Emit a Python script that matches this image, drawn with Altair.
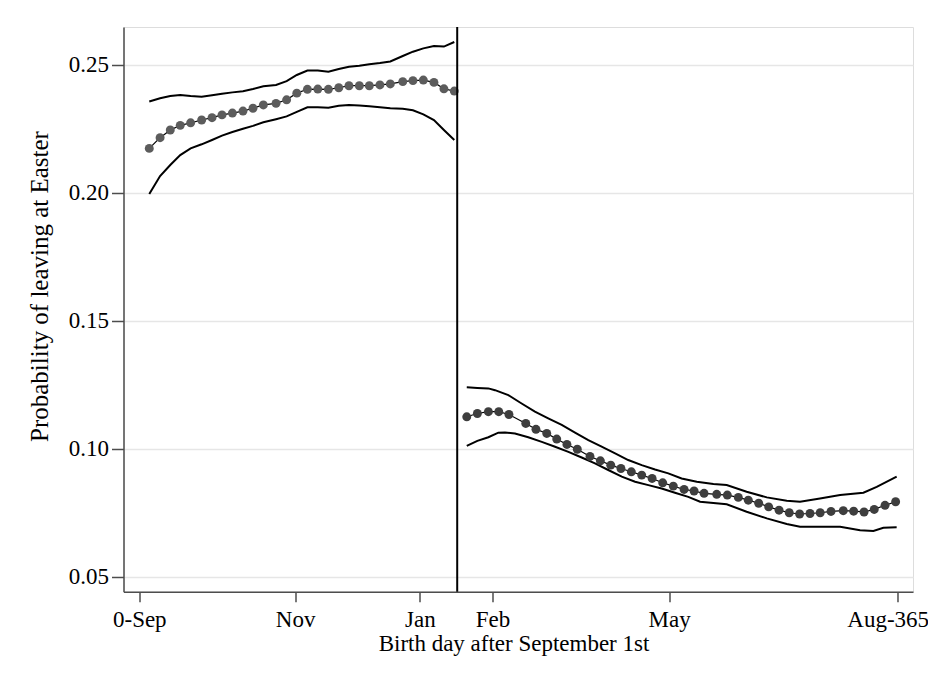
import altair as alt
import pandas as pd

# ---- data ----
left_day = [4.8, 10.0, 14.9, 19.7, 24.7, 30.0, 35.0, 39.8, 44.8, 49.9, 54.7, 59.7, 65.8, 70.9, 75.8,
            80.9, 85.9, 91.0, 96.0, 100.9, 105.9, 110.7, 115.8, 120.8, 126.8, 131.7, 136.7, 141.8, 146.6, 151.6]
left_est = [0.2174, 0.2216, 0.2246, 0.2264, 0.2274, 0.2285, 0.2294, 0.2305, 0.2312, 0.2320, 0.2331, 0.2344,
            0.2350, 0.2364, 0.2390, 0.2405, 0.2406, 0.2405, 0.2411, 0.2419, 0.2419, 0.2419, 0.2422, 0.2426,
            0.2435, 0.2439, 0.2441, 0.2432, 0.2407, 0.2398]
left_upper = [0.2357, 0.2370, 0.2379, 0.2383, 0.2379, 0.2376, 0.2382, 0.2388, 0.2393, 0.2397, 0.2406, 0.2417,
              0.2422, 0.2437, 0.2461, 0.2478, 0.2478, 0.2474, 0.2484, 0.2493, 0.2497, 0.2503, 0.2508, 0.2514,
              0.2535, 0.2552, 0.2565, 0.2574, 0.2572, 0.2590]
left_lower = [0.1996, 0.2066, 0.2109, 0.2148, 0.2174, 0.2190, 0.2207, 0.2224, 0.2238, 0.2251, 0.2262, 0.2276,
              0.2288, 0.2299, 0.2317, 0.2335, 0.2335, 0.2333, 0.2341, 0.2344, 0.2342, 0.2339, 0.2335, 0.2331,
              0.2329, 0.2323, 0.2307, 0.2285, 0.2246, 0.2207]

right_day = [157.6, 162.7, 168.0, 173.0, 177.9, 186.0, 190.9, 196.1, 200.9, 205.8, 210.8, 216.9, 221.9, 226.9,
             231.8, 236.8, 241.8, 246.8, 251.9, 257.0, 262.2, 267.0, 271.8, 277.9, 283.0, 288.3, 293.1, 298.1,
             302.9, 307.9, 312.8, 317.8, 322.8, 327.7, 332.9, 338.8, 343.8, 348.8, 353.7, 358.9, 364.0]
right_est = [0.1125, 0.1138, 0.1145, 0.1145, 0.1134, 0.1099, 0.1076, 0.1060, 0.1038, 0.1017, 0.0998, 0.0970,
             0.0953, 0.0936, 0.0923, 0.0910, 0.0897, 0.0884, 0.0867, 0.0854, 0.0841, 0.0835, 0.0826, 0.0822,
             0.0819, 0.0810, 0.0799, 0.0787, 0.0773, 0.0760, 0.0750, 0.0745, 0.0747, 0.0750, 0.0755, 0.0758,
             0.0756, 0.0753, 0.0763, 0.0779, 0.0793]

right_upper_day = [157.6, 162.7, 168.0, 171.2, 177.6, 184.0, 190.4, 196.8, 203.3, 209.7, 216.1, 222.5, 229.0,
                   235.3, 241.8, 248.2, 254.6, 261.0, 268.3, 276.3, 282.7, 292.3, 302.0, 311.6, 318.0, 327.6,
                   337.3, 348.5, 354.9, 364.5]
right_upper = [0.1240, 0.1238, 0.1236, 0.1229, 0.1210, 0.1177, 0.1145, 0.1119, 0.1093, 0.1063, 0.1034, 0.1008,
               0.0982, 0.0956, 0.0936, 0.0919, 0.0904, 0.0884, 0.0871, 0.0862, 0.0858, 0.0832, 0.0810, 0.0797,
               0.0793, 0.0806, 0.0819, 0.0828, 0.0851, 0.0891]
right_lower_day = [157.6, 162.7, 168.0, 172.8, 176.0, 180.8, 187.2, 193.7, 200.1, 206.5, 212.9, 219.3, 225.7,
                   232.2, 238.6, 245.0, 251.4, 257.8, 264.2, 269.9, 282.7, 292.3, 302.0, 311.6, 318.0, 327.6,
                   337.3, 346.9, 353.3, 358.1, 364.5]
right_lower = [0.1011, 0.1031, 0.1045, 0.1063, 0.1064, 0.1060, 0.1045, 0.1027, 0.1008, 0.0988, 0.0966, 0.0943,
               0.0917, 0.0891, 0.0871, 0.0858, 0.0845, 0.0828, 0.0812, 0.0793, 0.0783, 0.0754, 0.0728, 0.0706,
               0.0695, 0.0695, 0.0695, 0.0682, 0.0679, 0.0691, 0.0693]

cutoff_day = [153]
x_ticks = [0, 75, 135, 170, 255, 365]
x_tick_labels = ["0-Sep", "Nov", "Jan", "Feb", "May", "Aug-365"]
y_ticks = [0.05, 0.10, 0.15, 0.20, 0.25]

# ---- tables ----
ci = pd.concat([
    pd.DataFrame({"day": left_day, "val": left_upper, "grp": "lu"}),
    pd.DataFrame({"day": left_day, "val": left_lower, "grp": "ll"}),
    pd.DataFrame({"day": right_upper_day, "val": right_upper, "grp": "ru"}),
    pd.DataFrame({"day": right_lower_day, "val": right_lower, "grp": "rl"}),
], ignore_index=True)
est = pd.concat([
    pd.DataFrame({"day": left_day, "val": left_est, "seg": "left"}),
    pd.DataFrame({"day": right_day, "val": right_est, "seg": "right"}),
], ignore_index=True)
cut = pd.DataFrame({"day": cutoff_day})

FONT = "Liberation Serif"
label_map = "{" + ",".join(f"'{v}':'{l}'" for v, l in zip(x_ticks, x_tick_labels)) + "}"

x_scale = alt.Scale(domain=[-7.604, 372.36], nice=False, zero=False)
y_scale = alt.Scale(domain=[0.04414, 0.26485], nice=False, zero=False)

x_enc = alt.X("day:Q", scale=x_scale, axis=alt.Axis(
    values=x_ticks, labelExpr=f"{label_map}[datum.value]", title="Birth day after September 1st",
    grid=False, tickSize=10, labelPadding=7, titlePadding=1, titleX=390,
    labelOffset=alt.condition("datum.value == 365", alt.value(-10), alt.value(0)),
    labelFontSize=23, titleFontSize=23,
    labelFont=FONT, titleFont=FONT, titleFontWeight="normal", labelColor="black", titleColor="black",
    domainColor="#4d4d4d", tickColor="#4d4d4d", domainWidth=1.5, tickWidth=1.5, labelFlush=False))
y_enc = alt.Y("val:Q", scale=y_scale, axis=alt.Axis(
    values=y_ticks, format=".2f", title="Probability of leaving at Easter",
    grid=True, gridColor="#e6e6e6", gridWidth=1.5, tickSize=12, labelPadding=3, titlePadding=16,
    titleY=259,
    labelFontSize=23, titleFontSize=25, labelFont=FONT, titleFont=FONT, titleFontWeight="normal",
    labelColor="black", titleColor="black", domainColor="#4d4d4d", tickColor="#4d4d4d",
    domainWidth=1.5, tickWidth=1.5))

ci_lines = alt.Chart(ci).mark_line(color="black", strokeWidth=2).encode(
    x=x_enc, y=y_enc, detail="grp:N")
est_line = alt.Chart(est).mark_line(color="black", strokeWidth=1.2).encode(
    x="day:Q", y="val:Q", detail="seg:N")
est_pts = alt.Chart(est).mark_point(filled=True, size=80, opacity=1, shape="circle").encode(
    x="day:Q", y="val:Q",
    color=alt.Color("seg:N", scale=alt.Scale(domain=["left", "right"], range=["#5c5c5c", "#3e3e3e"]),
                    legend=None))
rule = alt.Chart(cut).mark_rule(color="black", strokeWidth=2).encode(x="day:Q")

chart = alt.layer(ci_lines, est_line, est_pts, rule).properties(
    width=789.5, height=564.7,
    autosize=alt.AutoSizeParams(type="none"),
    padding={"left": 115.5, "top": 19, "right": 15, "bottom": 78},
).configure_view(stroke=None).configure(background="white")

chart.save("out.html", embed_options={"renderer": "svg", "actions": False})
